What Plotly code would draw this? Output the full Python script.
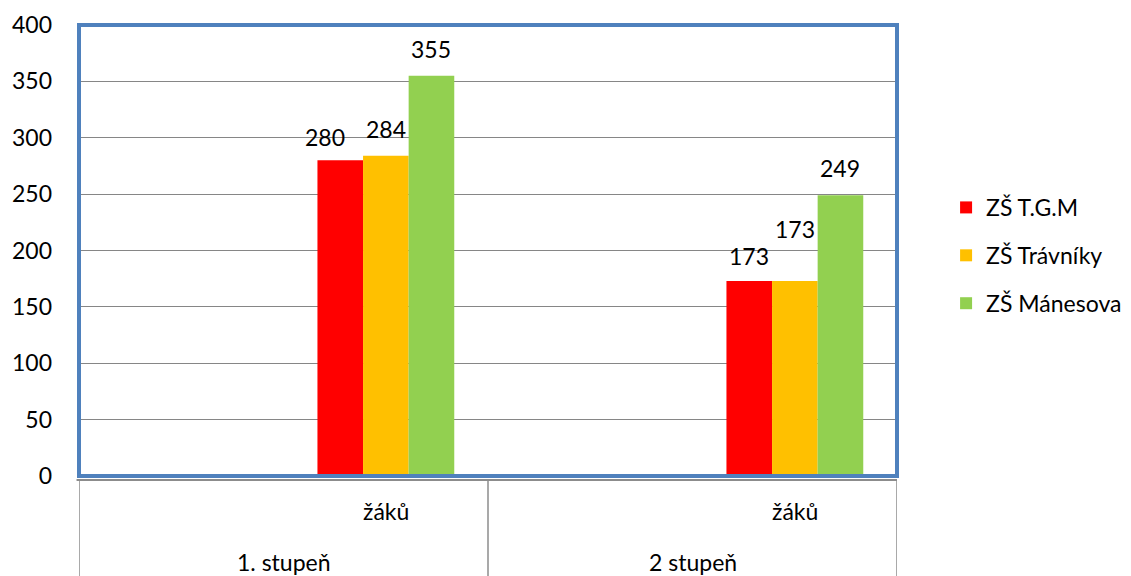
import plotly.graph_objects as go

# Data
stupne = ["1. stupeň", "2 stupeň"]
podkategorie = ["žáků", "žáků"]
skoly = ["ZŠ T.G.M", "ZŠ Trávníky", "ZŠ Mánesova"]
tgm = [280, 173]
travniky = [284, 173]
manesova = [355, 249]
y_ticks = [0, 50, 100, 150, 200, 250, 300, 350, 400]

barvy = ["#FF0000", "#FFC000", "#92D050"]
hodnoty = [tgm, travniky, manesova]
FONT = "Lato, Open Sans, sans-serif"
VEL = 23

fig = go.Figure()

# bars sit right of category centre, like the original Excel chart
sirka = 0.1115
posuny = [0.083, 0.1945, 0.306]
# label nudges (px) where Excel moved labels by hand: [series][category]
posun_x = [[-15, 0], [0, 0], [0, 0]]
posun_y = [[23, 25], [27, 52], [27, 27]]

for s, (nazev, vals, barva, posun) in enumerate(zip(skoly, hodnoty, barvy, posuny)):
    fig.add_trace(go.Bar(
        x=stupne, y=vals, name=nazev,
        marker=dict(color=barva, line_width=0),
        width=sirka, offset=posun,
        legendgroup=nazev,
        hovertemplate="%{x}: %{y}<extra>" + nazev + "</extra>",
    ))
    for i, v in enumerate(vals):
        fig.add_annotation(
            x=i + posun + sirka / 2, y=v, xref="x", yref="y",
            text=str(v), showarrow=False, yanchor="middle",
            xshift=posun_x[s][i], yshift=posun_y[s][i],
            font=dict(size=VEL, family=FONT, color="black"),
        )

# page body has an 8px margin, so the figure is 8px smaller
fig.update_layout(
    barmode="overlay",
    width=1123, height=568,
    margin=dict(l=71, r=234, t=17, b=100, autoexpand=False),
    plot_bgcolor="white", paper_bgcolor="white",
    font=dict(family=FONT, size=VEL, color="black"),
    showlegend=True,
    legend=dict(
        x=1.06, xanchor="left", y=0.489, yanchor="middle",
        font=dict(size=VEL, family=FONT),
        tracegroupgap=15, itemwidth=30,
    ),
)

fig.update_xaxes(
    range=[-0.5, 1.5], showticklabels=False, showgrid=False,
    zeroline=False, showline=False, automargin=False,
)
fig.update_yaxes(
    range=[0, 400], tickvals=y_ticks, showgrid=True, gridcolor="#868686",
    gridwidth=1, zeroline=False, showline=False, ticks="", automargin=False,
    ticklabelstandoff=26, tickfont=dict(size=VEL, family=FONT),
)

# category axis below: lines and labels
seda = "#8C8C8C"
dole = -100 / 451
fig.add_shape(type="line", xref="paper", yref="paper", x0=-0.003, x1=1.0, y0=-0.009, y1=-0.009,
              line=dict(color=seda, width=2))
for i in range(len(stupne) + 1):
    fig.add_shape(type="line", xref="x", yref="paper", x0=i - 0.5, x1=i - 0.5,
                  y0=-0.009, y1=dole, line=dict(color=seda, width=1.5))
for i, (s, p) in enumerate(zip(stupne, podkategorie)):
    fig.add_annotation(x=i + 0.25, y=-0.078, xref="x", yref="paper", text=p,
                       showarrow=False, font=dict(size=VEL, family=FONT), yanchor="middle")
    fig.add_annotation(x=i, y=-0.19, xref="x", yref="paper", text=s,
                       showarrow=False, font=dict(size=VEL, family=FONT), yanchor="middle")

# plot area frame
fig.add_shape(type="rect", xref="paper", yref="paper", x0=0, x1=1, y0=0, y1=1,
              line=dict(color="#4F81BD", width=4), layer="above")

fig.write_html("out.html")
